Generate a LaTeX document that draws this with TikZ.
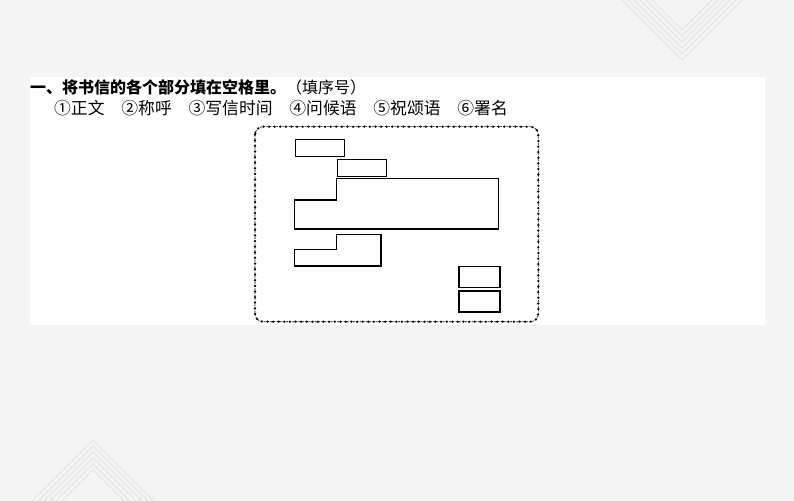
\documentclass[tikz,border=0pt]{standalone}
\usepackage{fontspec}
\usetikzlibrary{positioning}
\newfontfamily\cjk{Noto Sans CJK SC}
\definecolor{beijing}{HTML}{F4F4F4}
\definecolor{zhexian}{HTML}{DDDDDD}

\begin{document}
\begin{tikzpicture}[
        x=1bp, y=-1bp,
        kuang/.style = {rectangle, draw, line width=1.2bp, inner sep=0pt},
        lkuang/.style = {draw, line width=1.2bp},
        biankuang/.style = {line width=0.6bp, dash pattern=on 2bp off 1.2bp, rounded corners=8bp},
        dian/.style = {line width=2.5bp, line cap=round, dash pattern=on 0bp off 5.6bp, rounded corners=8bp},
        wenzi/.style = {inner sep=0pt, anchor=west, font=\cjk}
        ]
        \useasboundingbox (0,0) rectangle (794,501);
        \fill[beijing] (0,0) rectangle (794,501);
        % faint chevrons
        \foreach \k in {0,...,5} {
          \draw[zhexian, line width=0.6bp] (622,{60-6*\k-60}) -- (682,{60-6*\k}) -- (742,{60-6*\k-60});
          \draw[zhexian, line width=0.6bp] (20,{440+6*\k+73}) -- (93,{440+6*\k}) -- (166,{440+6*\k+73});
        }
        \fill[white] (30,77) rectangle (765,325);

        \node[wenzi, font=\cjk\fontsize{16bp}{18bp}\selectfont] (timu) at (30,87) {{\bfseries 一、将书信的各个部分填在空格里。}（填序号）};
        \node[wenzi, font=\cjk\fontsize{16.8bp}{18bp}\selectfont] (xuanxiang) at (54,108) {①正文　②称呼　③写信时间　④问候语　⑤祝颂语　⑥署名};

        % letter frame
        \draw[biankuang] (255,126.7) rectangle (538.3,321.7);
        \draw[dian] (255,126.7) rectangle (538.3,321.7);

        \node[kuang, minimum width=48.6bp, minimum height=17.4bp] (chenghu) at (320,148) {};
        \node[kuang, minimum width=49bp, minimum height=17bp] (wenhou) at (361.8,167.8) {};
        \draw[lkuang] (294.7,200) -- (336.7,200) -- (336.7,178.3) -- (498.3,178.3)
          -- (498.3,229) -- (294.7,229) -- cycle;
        \draw[lkuang] (294.7,249.3) -- (336.7,249.3) -- (336.7,234.3) -- (381,234.3)
          -- (381,266) -- (294.7,266) -- cycle;
        \node[kuang, minimum width=41bp, minimum height=21bp] (shuming) at (479.5,276.8) {};
        \node[kuang, minimum width=41bp, minimum height=21bp] (shijian) [below=2.4bp of shuming] {};
\end{tikzpicture}
\end{document}
